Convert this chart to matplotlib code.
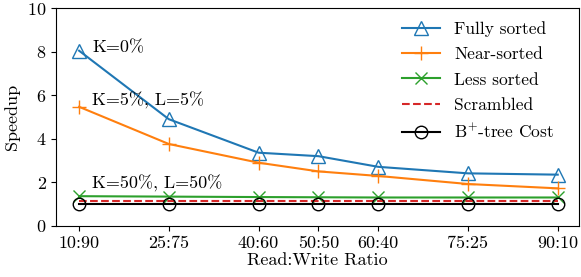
import matplotlib
matplotlib.use('Agg')
import matplotlib.pyplot as plt

plt.rcParams['font.family'] = 'serif'
plt.rcParams['font.serif'] = ['cmr10']
plt.rcParams['mathtext.fontset'] = 'cm'
plt.rcParams['axes.formatter.use_mathtext'] = True
plt.rcParams['font.size'] = 13

read_pct = [10, 25, 40, 50, 60, 75, 90]
tick_labels = ['10:90', '25:75', '40:60', '50:50', '60:40', '75:25', '90:10']
fully_sorted = [8.05, 4.9, 3.36, 3.2, 2.71, 2.41, 2.35]
near_sorted = [5.47, 3.76, 2.9, 2.5, 2.29, 1.92, 1.72]
less_sorted = [1.36, 1.34, 1.32, 1.31, 1.3, 1.3, 1.3]
scrambled = [1.15, 1.15, 1.15, 1.15, 1.15, 1.15, 1.15]
btree_cost = [1.0, 1.0, 1.0, 1.0, 1.0, 1.0, 1.0]

fig = plt.figure(figsize=(5.81, 2.77), dpi=100)
ax = fig.add_axes([0.097, 0.185, 0.9, 0.785])
ax.plot(read_pct, fully_sorted, color='#1f77b4', marker='^', ms=10, mfc='none', label='Fully sorted')
ax.plot(read_pct, near_sorted, color='#ff7f0e', marker='+', ms=10, label='Near-sorted')
ax.plot(read_pct, less_sorted, color='#2ca02c', marker='x', ms=9, label='Less sorted')
ax.plot(read_pct, scrambled, color='#d62728', linestyle='--', label='Scrambled')
ax.plot(read_pct, btree_cost, color='black', marker='o', ms=9, mfc='none', label='B$^{+}$-tree Cost')

ax.text(12.2, 8.2, 'K=0%', va='center')
ax.text(12.2, 5.78, 'K=5%, L=5%', va='center')
ax.text(12.2, 1.96, 'K=50%, L=50%', va='center')

ax.set_xticks(read_pct)
ax.set_xticklabels(tick_labels)
ax.set_xlim(6.2, 93.6)
ax.set_ylim(0, 10)
ax.set_xlabel('Read:Write Ratio', labelpad=1)
ax.set_ylabel('Speedup', labelpad=5)
ax.legend(loc='upper right', bbox_to_anchor=(0.985, 1.022), frameon=False, fontsize=12.5,
          borderaxespad=0.6, labelspacing=0.58, handlelength=2.2)
plt.savefig('out.png')
